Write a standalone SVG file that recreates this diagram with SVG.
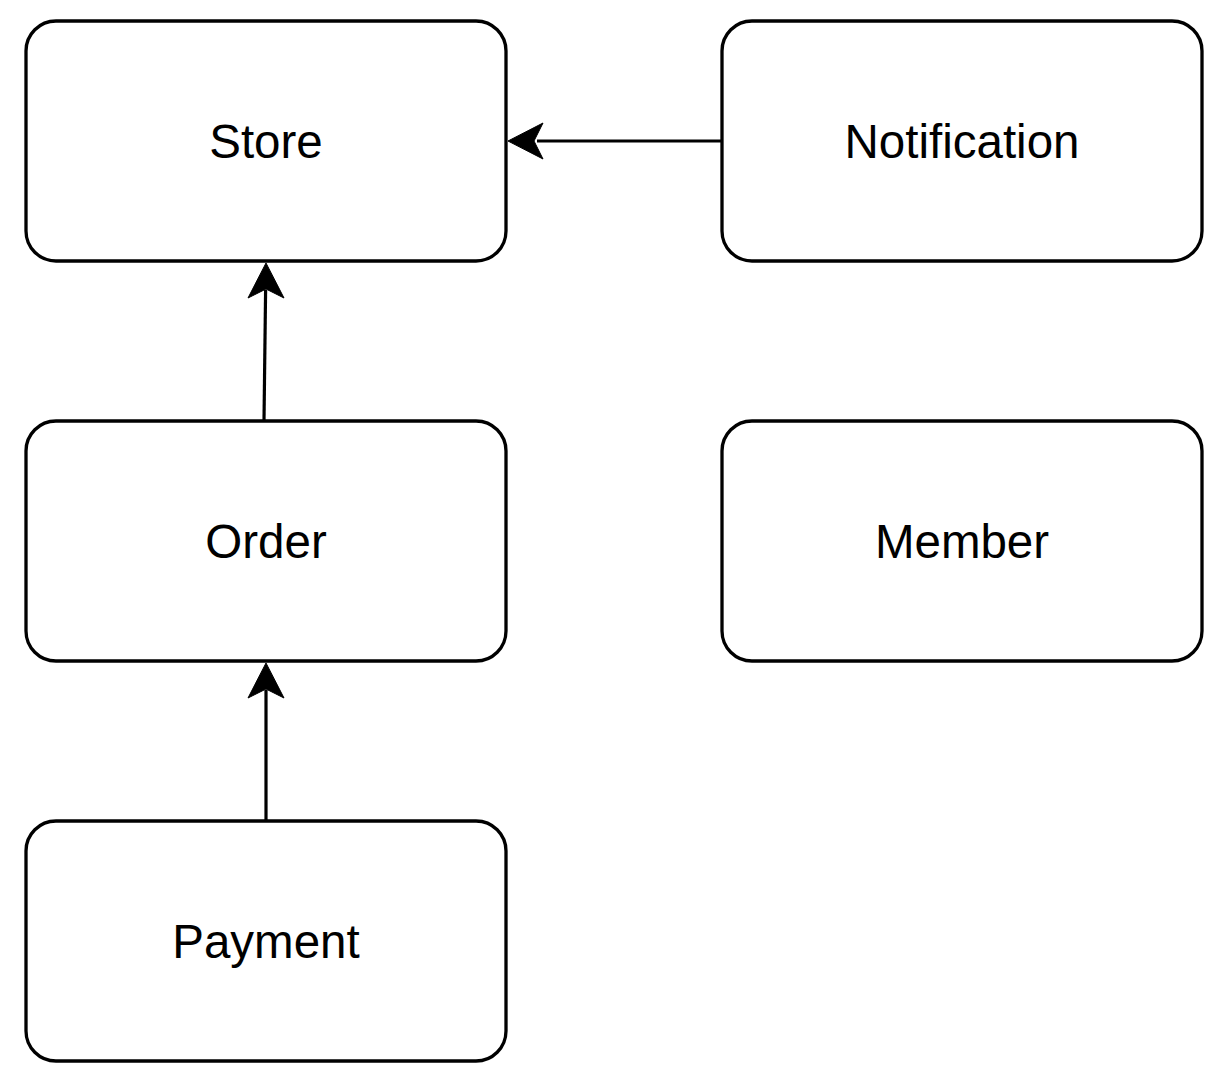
<svg xmlns="http://www.w3.org/2000/svg" width="1220" height="1078" viewBox="0 0 1220 1078">
<style>
.box{fill:#fff;stroke:#000;stroke-width:3.3}
.lbl{font-family:"Liberation Sans",Arial,sans-serif;font-size:47.5px;fill:#000;text-anchor:middle}
.edge{stroke:#000;stroke-width:3.2;fill:none}
.head{fill:#000;stroke:#000;stroke-width:1}
</style>
<rect width="1220" height="1078" fill="#fff"/>
<g id="connectors">
<line class="edge" x1="722" y1="141" x2="537" y2="141"/>
<path class="head" d="M543,123 L508,141 L543,159 L534,141 Z"/>
<line class="edge" x1="264" y1="421" x2="265.6" y2="290"/>
<path class="head" d="M248,298 L266,263 L284,298 L266,289 Z"/>
<line class="edge" x1="266" y1="821" x2="266" y2="690"/>
<path class="head" d="M248,698 L266,663 L284,698 L266,689 Z"/>
</g>
<g id="store"><rect class="box" x="26" y="21" width="480" height="240" rx="30"/><text class="lbl" x="266" y="158">Store</text></g>
<g id="notification"><rect class="box" x="722" y="21" width="480" height="240" rx="30"/><text class="lbl" x="962" y="158">Notification</text></g>
<g id="order"><rect class="box" x="26" y="421" width="480" height="240" rx="30"/><text class="lbl" x="266" y="558">Order</text></g>
<g id="member"><rect class="box" x="722" y="421" width="480" height="240" rx="30"/><text class="lbl" x="962" y="558">Member</text></g>
<g id="payment"><rect class="box" x="26" y="821" width="480" height="240" rx="30"/><text class="lbl" x="266" y="958">Payment</text></g>
</svg>
